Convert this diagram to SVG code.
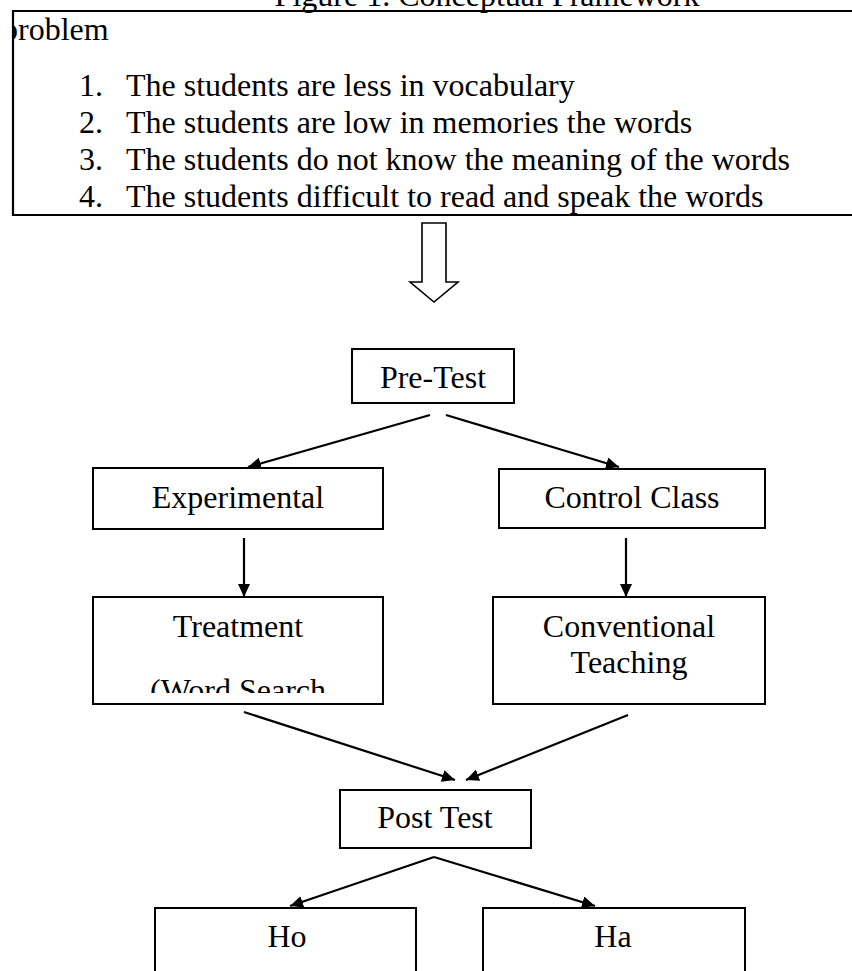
<svg xmlns="http://www.w3.org/2000/svg" width="852" height="971" viewBox="0 0 852 971">
<defs>
<style>
text{font-family:"Liberation Serif","Times New Roman",serif;font-size:32px;fill:#000}
.c{text-anchor:middle}
.box{fill:#fff;stroke:#000;stroke-width:2}
.ln{stroke:#000;stroke-width:2.2;fill:none}
.arr{stroke:#000;stroke-width:2.2;fill:none;marker-end:url(#ah)}
</style>
<marker id="ah" markerUnits="userSpaceOnUse" markerWidth="14" markerHeight="12" refX="13" refY="6" orient="auto">
<path d="M0,0 L13,6 L0,12 z" fill="#000"/>
</marker>
<clipPath id="probClip"><rect x="14" y="12" width="838" height="202"/></clipPath>
<clipPath id="treatClip"><rect x="94" y="598" width="288" height="95"/></clipPath>
</defs>
<rect width="852" height="971" fill="#fff"/>
<text id="title" class="c" x="487" y="6">Figure 1. Conceptual Framework</text>
<g id="problem">
<path class="ln" d="M860,11 H13 V215 H860"/>
<g clip-path="url(#probClip)"><text x="2" y="40">problem</text></g>
<text x="79" y="96">1.</text><text x="126" y="96">The students are less in vocabulary</text>
<text x="79" y="133">2.</text><text x="126" y="133">The students are low in memories the words</text>
<text x="79" y="170">3.</text><text x="126" y="170">The students do not know the meaning of the words</text>
<text x="79" y="207">4.</text><text x="126" y="207">The students difficult to read and speak the words</text>
</g>
<g id="blockArrow">
<path d="M422,223 H446 V282 H458 L434,302 L410,282 H422 Z" fill="#fff" stroke="#000" stroke-width="1.6"/>
</g>
<g id="pretest"><rect class="box" x="352" y="349" width="162" height="54"/><text class="c" x="433" y="388">Pre-Test</text></g>
<g id="experimental"><rect class="box" x="93" y="468" width="290" height="61"/><text class="c" x="238" y="508">Experimental</text></g>
<g id="control"><rect class="box" x="499" y="469" width="266" height="59"/><text class="c" x="632" y="508">Control Class</text></g>
<g id="treatment"><rect class="box" x="93" y="597" width="290" height="107"/><text class="c" x="238" y="637">Treatment</text><g clip-path="url(#treatClip)"><text class="c" x="238" y="701">(Word Search</text></g></g>
<g id="conventional"><rect class="box" x="493" y="597" width="272" height="107"/><text class="c" x="629" y="637">Conventional</text><text class="c" x="629" y="673">Teaching</text></g>
<g id="posttest"><rect class="box" x="340" y="790" width="191" height="58"/><text class="c" x="435" y="828">Post Test</text></g>
<g id="ho"><path class="box" d="M155,980 V908 H416 V980"/><text class="c" x="287" y="947">Ho</text></g>
<g id="ha"><path class="box" d="M483,980 V908 H745 V980"/><text class="c" x="613" y="947">Ha</text></g>
<g id="connectors">
<line class="arr" x1="430" y1="415" x2="248" y2="467"/>
<line class="arr" x1="446" y1="415" x2="619" y2="467"/>
<line class="arr" x1="244" y1="538" x2="244" y2="597"/>
<line class="arr" x1="626" y1="538" x2="626" y2="597"/>
<line class="arr" x1="244" y1="712" x2="455" y2="780"/>
<line class="arr" x1="628" y1="715" x2="466" y2="780"/>
<line class="arr" x1="434" y1="857" x2="290" y2="906"/>
<line class="arr" x1="434" y1="857" x2="595" y2="906"/>
</g>
</svg>
